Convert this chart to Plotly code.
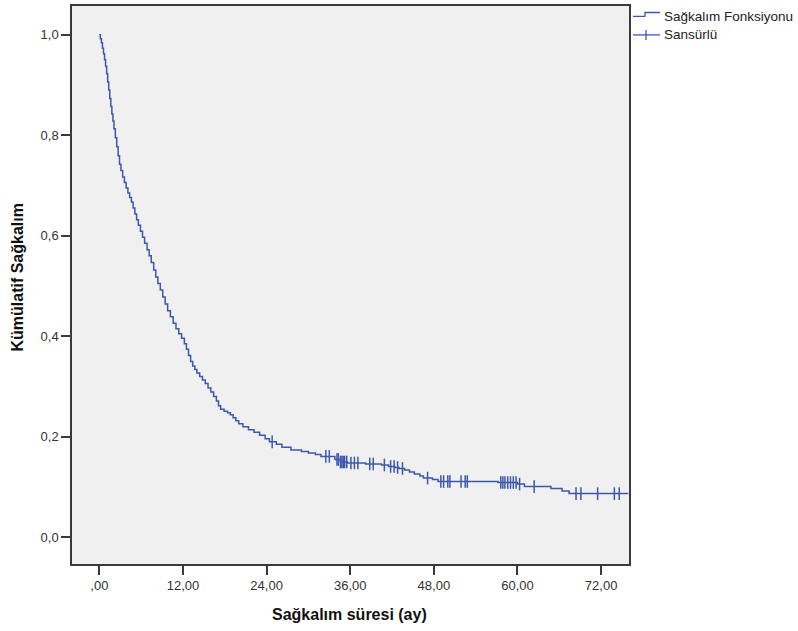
import numpy as np
import plotly.graph_objects as go

# Kaplan-Meier survival function (event times in months, survival after step)
event_times = [0.0, 0.15, 0.3, 0.45, 0.6, 0.75, 0.9, 1.05, 1.2, 1.35, 1.5, 1.65, 1.8, 1.95,
               2.1, 2.3, 2.5, 2.7, 2.9, 3.1, 3.35, 3.6, 3.85, 4.1, 4.35, 4.6, 4.85, 5.1,
               5.35, 5.6, 5.9, 6.2, 6.5, 6.85, 7.15, 7.45, 7.8, 8.1, 8.4, 8.75, 9.1, 9.45,
               9.8, 10.2, 10.6, 11.0, 11.4, 11.8, 12.2, 12.5, 12.8, 13.1, 13.4, 13.7, 14.0,
               14.4, 14.8, 15.2, 15.6, 16.0, 16.4, 16.8, 17.1, 17.4, 17.9, 18.4, 18.8, 19.2,
               19.6, 20.0, 20.6, 21.4, 22.2, 23.0, 23.8, 24.4, 25.4, 26.2, 27.5,
               29.0, 30.0, 31.0, 31.8, 33.8, 34.6, 35.6, 38.2, 40.5, 41.5, 42.4, 43.0,
               43.8, 44.5, 45.2, 46.0, 46.5, 47.8, 48.6, 57.2, 60.0, 61.0, 64.8, 66.4,
               67.4, 75.9]
event_surv = [1.000, 0.992, 0.984, 0.973, 0.962, 0.950, 0.937, 0.922, 0.906, 0.890, 0.873,
              0.857, 0.842, 0.828, 0.813, 0.795, 0.777, 0.759, 0.742, 0.730, 0.717, 0.706,
              0.695, 0.685, 0.676, 0.667, 0.655, 0.643, 0.632, 0.621, 0.609, 0.597, 0.585,
              0.572, 0.560, 0.547, 0.532, 0.518, 0.505, 0.492, 0.478, 0.464, 0.451, 0.439,
              0.426, 0.415, 0.405, 0.396, 0.385, 0.374, 0.362, 0.350, 0.341, 0.334, 0.327,
              0.320, 0.313, 0.306, 0.297, 0.289, 0.280, 0.271, 0.262, 0.255, 0.251, 0.248,
              0.244, 0.238, 0.232, 0.226, 0.220, 0.214, 0.209, 0.203, 0.196, 0.190, 0.185,
              0.179, 0.174, 0.171, 0.168, 0.165, 0.161, 0.155, 0.150, 0.148, 0.146, 0.144,
              0.141, 0.139, 0.137, 0.134, 0.130, 0.126, 0.122, 0.118, 0.115, 0.111, 0.109,
              0.106, 0.101, 0.097, 0.092, 0.087, 0.087]

# Censored observations (months)
censor_times = [24.8, 32.5, 33.0, 34.1, 34.3, 34.6, 34.8, 35.0, 35.2, 35.5, 36.1, 36.6,
                37.1, 38.8, 39.3, 40.9, 41.8, 42.3, 42.8, 43.5, 47.1, 49.0, 49.4, 50.0,
                50.3, 51.9, 52.5, 52.8, 57.6, 57.9, 58.2, 58.6, 59.0, 59.4, 59.8, 60.3,
                62.4, 68.4, 69.1, 71.5, 73.9, 74.6]

x_tickvals = [0, 12, 24, 36, 48, 60, 72]
x_ticktext = [",00", "12,00", "24,00", "36,00", "48,00", "60,00", "72,00"]
y_tickvals = [0.0, 0.2, 0.4, 0.6, 0.8, 1.0]
y_ticktext = ["0,0", "0,2", "0,4", "0,6", "0,8", "1,0"]

BLUE = "#3B58AC"
AXC = "#3a3a3a"
FONT = "Arial, Liberation Sans, sans-serif"

et = np.array(event_times)
es = np.array(event_surv)
ct = np.array(censor_times)
cs = es[np.searchsorted(et, ct, side="right") - 1]

fig = go.Figure()
fig.add_trace(go.Scatter(x=event_times, y=event_surv, mode="lines",
                         line=dict(color=BLUE, width=1.5, shape="hv"),
                         showlegend=False, hoverinfo="skip"))
fig.add_trace(go.Scatter(x=ct, y=cs, mode="markers",
                         marker=dict(symbol="line-ns", size=9,
                                     line=dict(color=BLUE, width=1.5)),
                         showlegend=False, hoverinfo="skip"))

L, R, T, B = 72, 629, 4, 564
W, H = 798, 631
pw, ph = R - L, B - T


def px(x):
    return (x - L) / pw


def py(y):
    return (B - y) / ph


shapes = [
    dict(type="path", xref="paper", yref="paper",
         path=f"M {px(633)} {py(14.5)} L {px(645)} {py(14.5)} L {px(645)} {py(10.5)} L {px(660)} {py(10.5)}",
         line=dict(color=BLUE, width=1.3)),
    dict(type="line", xref="paper", yref="paper", x0=px(633), x1=px(660), y0=py(33), y1=py(33),
         line=dict(color=BLUE, width=1.3)),
    dict(type="line", xref="paper", yref="paper", x0=px(646), x1=px(646), y0=py(28), y1=py(38),
         line=dict(color=BLUE, width=1.3)),
]

annotations = [
    dict(text="Sağkalım Fonksiyonu", xref="paper", yref="paper", x=px(662), y=py(15),
         xanchor="left", yanchor="middle", showarrow=False,
         font=dict(family=FONT, size=13.5, color="#222")),
    dict(text="Sansürlü", xref="paper", yref="paper", x=px(662), y=py(33),
         xanchor="left", yanchor="middle", showarrow=False,
         font=dict(family=FONT, size=13.5, color="#222")),
    dict(text="<b>Sağkalım süresi (ay)</b>", xref="paper", yref="paper", x=px(349), y=py(615),
         xanchor="center", yanchor="middle", showarrow=False,
         font=dict(family=FONT, size=16, color="#111")),
    dict(text="<b>Kümülatif Sağkalım</b>", xref="paper", yref="paper", x=px(17.5), y=py(277),
         xanchor="center", yanchor="middle", showarrow=False, textangle=-90,
         font=dict(family=FONT, size=16, color="#111")),
]

fig.update_layout(
    width=W, height=H,
    margin=dict(l=L, r=W - R, t=T, b=H - B, pad=0),
    paper_bgcolor="white", plot_bgcolor="#F0F0F0",
    font=dict(family=FONT, size=13, color="#333"),
    shapes=shapes, annotations=annotations,
    showlegend=False,
)
fig.update_xaxes(range=[-3.92, 76.0], tickvals=x_tickvals, ticktext=x_ticktext,
                 ticks="outside", ticklen=9, tickwidth=1.5, tickcolor=AXC,
                 showline=True, mirror=True, linecolor=AXC, linewidth=1.5,
                 showgrid=False, zeroline=False, tickfont=dict(size=13, color="#333"))
fig.update_yaxes(range=[-0.053, 1.057], tickvals=y_tickvals, ticktext=y_ticktext,
                 ticks="outside", ticklen=9, tickwidth=1.5, tickcolor=AXC,
                 showline=True, mirror=True, linecolor=AXC, linewidth=1.5,
                 showgrid=False, zeroline=False, tickfont=dict(size=13, color="#333"))

fig.write_html("out.html")
